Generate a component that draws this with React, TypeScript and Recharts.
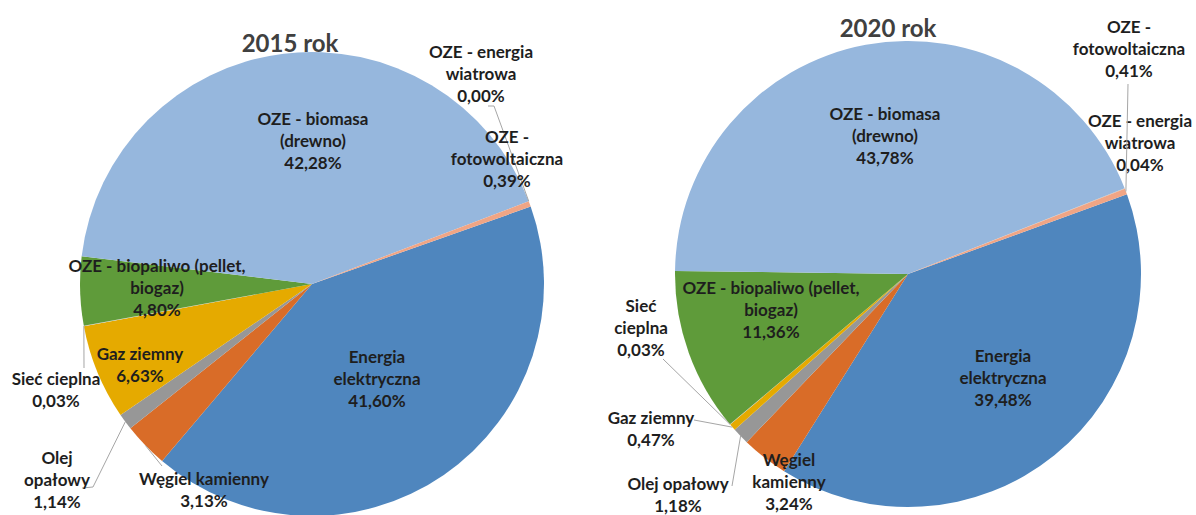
import { PieChart, Pie, Cell } from 'recharts';

// kolejnosc zgodnie z ruchem wskazowek zegara, od "Energia elektryczna"
const categories = [
  'Energia elektryczna',
  'Węgiel kamienny',
  'Olej opałowy',
  'Gaz ziemny',
  'Sieć cieplna',
  'OZE - biopaliwo (pellet, biogaz)',
  'OZE - biomasa (drewno)',
  'OZE - energia wiatrowa',
  'OZE - fotowoltaiczna',
];
const share2015 = [41.6, 3.13, 1.14, 6.63, 0.03, 4.8, 42.28, 0.0, 0.39];
const share2020 = [39.48, 3.24, 1.18, 0.47, 0.03, 11.36, 43.78, 0.04, 0.41];
const titles = ['2015 rok', '2020 rok'];

const colors = ['#4F86BE', '#D96C28', '#979797', '#E5AA00', '#C9C9C9', '#5F9B3A', '#96B7DD', '#B7B7B7', '#F0A585'];

type Place = { dx: number; dy: number; wrap: number[]; leader?: [number, number][] };

// polozenie etykiet wzgledem srodka kola
const layout2015: Record<string, Place> = {
  'Energia elektryczna': { dx: 65, dy: 72, wrap: [1, 1] },
  'Węgiel kamienny': { dx: -108, dy: 194, wrap: [2], leader: [[-150, 182]] },
  'Olej opałowy': { dx: -255, dy: 173, wrap: [1, 1], leader: [[-230, 204], [-219, 203]] },
  'Gaz ziemny': { dx: -172, dy: 69, wrap: [2] },
  'Sieć cieplna': { dx: -256, dy: 94, wrap: [2], leader: [[-228, 84]] },
  'OZE - biopaliwo (pellet, biogaz)': { dx: -155, dy: -19, wrap: [4, 1] },
  'OZE - biomasa (drewno)': { dx: 1, dy: -166, wrap: [3, 1] },
  'OZE - energia wiatrowa': { dx: 169, dy: -233, wrap: [3, 1], leader: [[176, -178], [182, -178]] },
  'OZE - fotowoltaiczna': { dx: 195, dy: -148, wrap: [2, 1] },
};

const layout2020: Record<string, Place> = {
  'Energia elektryczna': { dx: 95, dy: 81, wrap: [1, 1] },
  'Węgiel kamienny': { dx: -119, dy: 185, wrap: [1, 1] },
  'Olej opałowy': { dx: -230, dy: 209, wrap: [2], leader: [[-176, 212]] },
  'Gaz ziemny': { dx: -257, dy: 143, wrap: [2], leader: [[-214, 146]] },
  'Sieć cieplna': { dx: -267, dy: 31, wrap: [1, 1], leader: [[-245, 85]] },
  'OZE - biopaliwo (pellet, biogaz)': { dx: -137, dy: 13, wrap: [4, 1] },
  'OZE - biomasa (drewno)': { dx: -23, dy: -161, wrap: [3, 1] },
  'OZE - energia wiatrowa': { dx: 232, dy: -154, wrap: [3, 1] },
  'OZE - fotowoltaiczna': { dx: 221, dy: -248, wrap: [2, 1], leader: [[220, -190]] },
};

const RAD = Math.PI / 180;
const LINE_H = 22;

const toRows = (values: number[]) => categories.map((name, i) => ({ name, value: values[i] }));

function splitName(name: string, wrap: number[]) {
  const words = name.split(' ');
  const lines: string[] = [];
  let k = 0;
  wrap.forEach((n) => {
    lines.push(words.slice(k, k + n).join(' '));
    k += n;
  });
  return lines;
}

const fmt = (v: number) => v.toFixed(2).replace('.', ',') + '%';

function makeLabel(layout: Record<string, Place>) {
  return (props: any) => {
    const { cx, cy, midAngle, outerRadius, name, value, index } = props;
    const p = layout[name];
    if (!p) return null;
    const lines = [...splitName(name, p.wrap), fmt(value)];
    const x = cx + p.dx;
    const y0 = cy + p.dy;
    const ex = cx + outerRadius * Math.cos(-midAngle * RAD);
    const ey = cy + outerRadius * Math.sin(-midAngle * RAD);
    return (
      <g key={`lbl-${index}`}>
        {p.leader && (
          <polyline
            points={[...p.leader.map(([lx, ly]) => `${cx + lx},${cy + ly}`), `${ex},${ey}`].join(' ')}
            fill="none"
            stroke="#A6A6A6"
            strokeWidth={1}
          />
        )}
        {lines.map((t, i) => (
          <text
            key={i}
            x={x}
            y={y0 + i * LINE_H}
            textAnchor="middle"
            dominantBaseline="central"
            fontFamily="Lato, 'Open Sans', sans-serif"
            fontWeight={700}
            fontSize={17}
            fill="#1E1E1E"
          >
            {t}
          </text>
        ))}
      </g>
    );
  };
}

export default function App() {
  return (
    <div style={{ position: 'absolute', left: 0, top: 0, background: '#fff' }}>
      <PieChart width={1196} height={515} margin={{ top: 0, right: 0, bottom: 0, left: 0 }}>
        <Pie
          data={toRows(share2015)}
          dataKey="value"
          nameKey="name"
          cx={312}
          cy={284}
          outerRadius={232}
          startAngle={19.5}
          endAngle={-340.5}
          stroke="none"
          labelLine={false}
          label={makeLabel(layout2015)}
          isAnimationActive={false}
        >
          {categories.map((c, i) => (
            <Cell key={c} fill={colors[i]} />
          ))}
        </Pie>
        <Pie
          data={toRows(share2020)}
          dataKey="value"
          nameKey="name"
          cx={908}
          cy={274}
          outerRadius={233}
          startAngle={20}
          endAngle={-340}
          stroke="none"
          labelLine={false}
          label={makeLabel(layout2020)}
          isAnimationActive={false}
        >
          {categories.map((c, i) => (
            <Cell key={c} fill={colors[i]} />
          ))}
        </Pie>
        <text x={290} y={42} textAnchor="middle" dominantBaseline="central" fontFamily="Lato, sans-serif" fontWeight={700} fontSize={24} fill="#404040">
          {titles[0]}
        </text>
        <text x={888} y={27} textAnchor="middle" dominantBaseline="central" fontFamily="Lato, sans-serif" fontWeight={700} fontSize={24} fill="#404040">
          {titles[1]}
        </text>
      </PieChart>
    </div>
  );
}
